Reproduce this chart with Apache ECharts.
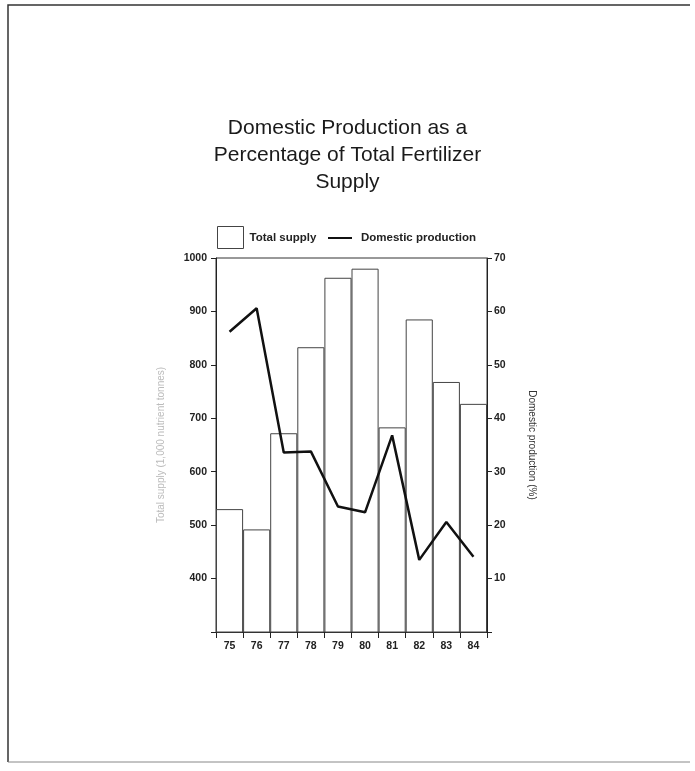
<!DOCTYPE html>
<html>
<head>
<meta charset="utf-8">
<script src="https://cdn.jsdelivr.net/npm/echarts@6/dist/echarts.min.js"></script>
<style>
    html, body { margin: 0; padding: 0; background: #fff; }
    #chart { width: 695px; height: 771px; }
</style>
</head>
<body>
<div id="chart"></div>
<script>
// data
var years = ['75', '76', '77', '78', '79', '80', '81', '82', '83', '84'];
var totalSupply = [530, 492, 672, 833, 963, 980, 683, 885, 768, 727];
var domesticPct = [56.2, 60.6, 33.6, 33.8, 23.5, 22.4, 36.8, 13.5, 20.6, 14.1];
var leftTicks = [400, 500, 600, 700, 800, 900, 1000];
var rightTicks = [10, 20, 30, 40, 50, 60, 70];

var font = '"Liberation Sans", Arial, sans-serif';

var chart = echarts.init(document.getElementById('chart'));
var option = {
    backgroundColor: '#fff',
    animation: false,
    title: {
        text: 'Domestic Production as a\nPercentage of Total Fertilizer\nSupply',
        left: 'center',
        top: 110,
        textStyle: {
            fontFamily: font,
            fontSize: 21,
            fontWeight: 'normal',
            lineHeight: 27,
            color: '#1a1a1a'
        }
    },
    legend: [{
        data: [{ name: 'Total supply', icon: 'rect' }],
        left: 212,
        top: 221,
        itemWidth: 26,
        itemHeight: 22,
        itemStyle: { borderWidth: 1, borderColor: '#444' },
        textStyle: { fontFamily: font, fontSize: 11.5, fontWeight: 'bold', color: '#222', padding: [0, 0, 0, 1] }
    }, {
        data: [{ name: 'Domestic production', icon: 'rect' }],
        left: 323,
        top: 227,
        itemWidth: 24,
        itemHeight: 2,
        itemStyle: { color: '#111' },
        textStyle: { fontFamily: font, fontSize: 11.5, fontWeight: 'bold', color: '#222', padding: [0, 0, 0, 4] }
    }],
    grid: {
        left: 216,
        right: 208,
        top: 258,
        bottom: 139,
        show: true,
        borderColor: '#333',
        borderWidth: 1
    },
    xAxis: {
        type: 'category',
        data: years,
        axisLine: { lineStyle: { color: '#222' } },
        axisTick: { show: true, length: 6, lineStyle: { color: '#222' } },
        axisLabel: { fontFamily: font, fontSize: 10.5, fontWeight: 'bold', color: '#222', margin: 9 }
    },
    yAxis: [{
        type: 'value',
        min: 300,
        max: 1000,
        interval: 100,
        name: 'Total supply (1,000 nutrient tonnes)',
        nameLocation: 'middle',
        nameGap: 50,
        nameTextStyle: { fontFamily: font, fontSize: 10, color: '#bbb' },
        axisLine: { show: true, lineStyle: { color: '#222' } },
        axisTick: { show: true, length: 5, lineStyle: { color: '#222' } },
        splitLine: { show: false },
        axisLabel: {
            fontFamily: font, fontSize: 10.5, fontWeight: 'bold', color: '#222', margin: 9,
            formatter: function (v) { return leftTicks.indexOf(v) > -1 ? v : ''; }
        }
    }, {
        type: 'value',
        min: 0,
        max: 70,
        interval: 10,
        position: 'right',
        name: 'Domestic production (%)',
        nameLocation: 'middle',
        nameGap: 40,
        nameRotate: -90,
        nameTextStyle: { fontFamily: font, fontSize: 10, color: '#333' },
        axisLine: { show: true, lineStyle: { color: '#222' } },
        axisTick: { show: true, length: 5, lineStyle: { color: '#222' } },
        splitLine: { show: false },
        axisLabel: {
            fontFamily: font, fontSize: 10.5, fontWeight: 'bold', color: '#222', margin: 7,
            formatter: function (v) { return rightTicks.indexOf(v) > -1 ? v : ''; }
        }
    }],
    series: [{
        name: 'Total supply',
        type: 'bar',
        yAxisIndex: 0,
        data: totalSupply,
        barCategoryGap: 0,
        itemStyle: { color: '#fff', borderColor: '#444', borderWidth: 1 }
    }, {
        name: 'Domestic production',
        type: 'line',
        yAxisIndex: 1,
        data: domesticPct,
        showSymbol: false,
        symbol: 'none',
        lineStyle: { color: '#111', width: 2.5 },
        itemStyle: { color: '#111' }
    }],
    graphic: [{
        // scanned page frame
        type: 'polyline',
        silent: true,
        shape: { points: [[8, 762], [8, 5], [690, 5]] },
        style: { stroke: '#333', lineWidth: 1.5, fill: null }
    }, {
        type: 'line',
        silent: true,
        shape: { x1: 8, y1: 762, x2: 690, y2: 762 },
        style: { stroke: '#888', lineWidth: 1 }
    }]
};
chart.setOption(option);
</script>
</body>
</html>
